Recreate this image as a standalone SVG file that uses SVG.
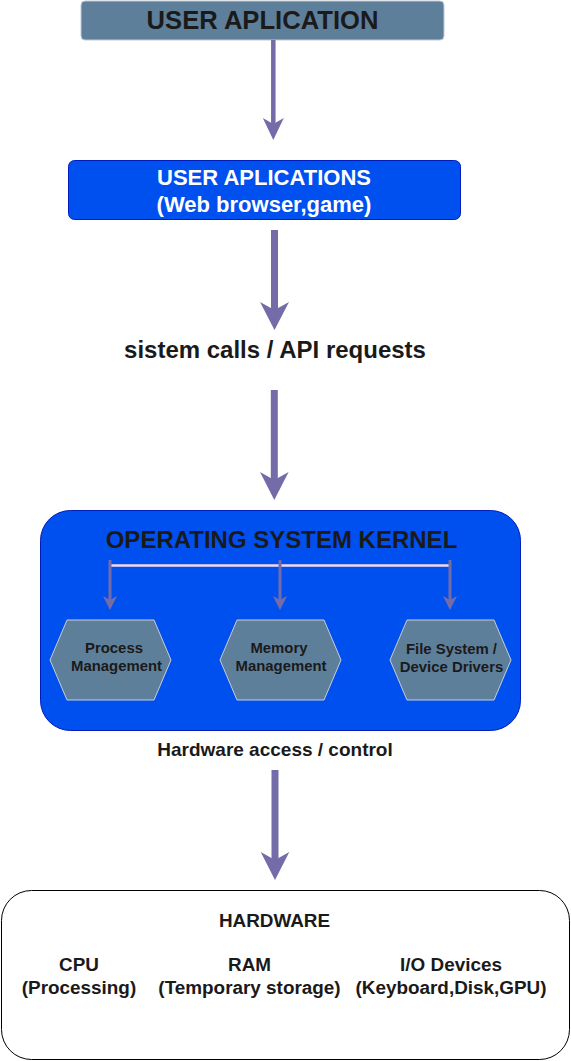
<svg xmlns="http://www.w3.org/2000/svg" width="571" height="1061" viewBox="0 0 571 1061">
<style>
text{font-family:"Liberation Sans",Arial,sans-serif;font-weight:bold;text-anchor:middle;fill:#1a1a1a}
.w{fill:#ffffff}
.hex{fill:#5E7F9A;stroke:#C8CED8;stroke-width:1}
.blue{fill:#0050EF;stroke:#001DBC;stroke-width:1}
.conn{stroke:#736CA8;fill:none}
.head{fill:#736CA8}
</style>
<g id="user-application">
<rect x="81" y="1" width="363" height="39" rx="4" fill="#5E7F9A" stroke="#C0CAD8" stroke-width="1"/>
<text x="262.5" y="29" font-size="25.6">USER APLICATION</text>
</g>
<g id="user-applications">
<rect class="blue" x="68.5" y="160.5" width="392" height="59" rx="6"/>
<text class="w" x="264" y="185" font-size="22">USER APLICATIONS</text>
<text class="w" x="264" y="212" font-size="22">(Web browser,game)</text>
</g>
<g id="syscalls-label">
<text x="275" y="358" font-size="24">sistem calls / API requests</text>
</g>
<g id="kernel">
<rect class="blue" x="40.5" y="510.5" width="480" height="220" rx="30"/>
<text x="281.5" y="548" font-size="24">OPERATING SYSTEM KERNEL</text>
</g>
<g id="process-management">
<polygon class="hex" points="50,660 67,620 154,620 171,660 154,700 67,700"/>
<text x="114" y="653" font-size="14.9">Process</text>
<text x="116.5" y="671" font-size="14.9">Management</text>
</g>
<g id="memory-management">
<polygon class="hex" points="220,660 237,620 324,620 341,660 324,700 237,700"/>
<text x="279" y="653" font-size="14.9">Memory</text>
<text x="281" y="671" font-size="14.9">Management</text>
</g>
<g id="file-system">
<polygon class="hex" points="390,660 407,620 494,620 511,660 494,700 407,700"/>
<text x="451.5" y="654" font-size="14.9">File System /</text>
<text x="451.5" y="672" font-size="14.9">Device Drivers</text>
</g>
<g id="hw-label">
<text x="275" y="756" font-size="19">Hardware access / control</text>
</g>
<g id="hardware">
<rect x="1.5" y="890.5" width="568" height="169" rx="30" fill="#ffffff" stroke="#000000" stroke-width="1"/>
<text x="274.5" y="927" font-size="18.9">HARDWARE</text>
<text x="79" y="971" font-size="18.9">CPU</text>
<text x="79" y="994" font-size="18.9">(Processing)</text>
<text x="249.5" y="971" font-size="18.9">RAM</text>
<text x="249.5" y="994" font-size="18.9">(Temporary storage)</text>
<text x="451" y="971" font-size="18.9">I/O Devices</text>
<text x="451" y="994" font-size="18.9">(Keyboard,Disk,GPU)</text>
</g>
<g id="connectors">
<line class="conn" x1="273.3" y1="40" x2="273.3" y2="124" stroke-width="4.5"/>
<polygon class="head" points="262.8,118 273.3,140 283.8,118 273.3,124"/>
<line class="conn" x1="274.5" y1="230" x2="274.5" y2="310" stroke-width="7"/>
<polygon class="head" points="260,302 274.5,330 289,302 274.5,310"/>
<line class="conn" x1="274.3" y1="390" x2="274.3" y2="480" stroke-width="7"/>
<polygon class="head" points="260,472 274.3,500 288.6,472 274.3,480"/>
<line class="conn" x1="275" y1="770" x2="275" y2="860" stroke-width="7"/>
<polygon class="head" points="260.7,852 275,880 289.3,852 275,860"/>
<line x1="110" y1="565.5" x2="450" y2="565.5" stroke="#B8B8E8" stroke-width="3"/>
<line x1="110" y1="565.5" x2="450" y2="565.5" stroke="#E0E0F8" stroke-width="1"/>
<line class="conn" x1="110" y1="560" x2="110" y2="600" stroke-width="3"/>
<polygon class="head" points="103,596 110,610 117,596 110,600"/>
<line class="conn" x1="280" y1="560" x2="280" y2="600" stroke-width="3"/>
<polygon class="head" points="273,596 280,610 287,596 280,600"/>
<line class="conn" x1="450" y1="560" x2="450" y2="600" stroke-width="3"/>
<polygon class="head" points="443,596 450,610 457,596 450,600"/>
</g>
</svg>
